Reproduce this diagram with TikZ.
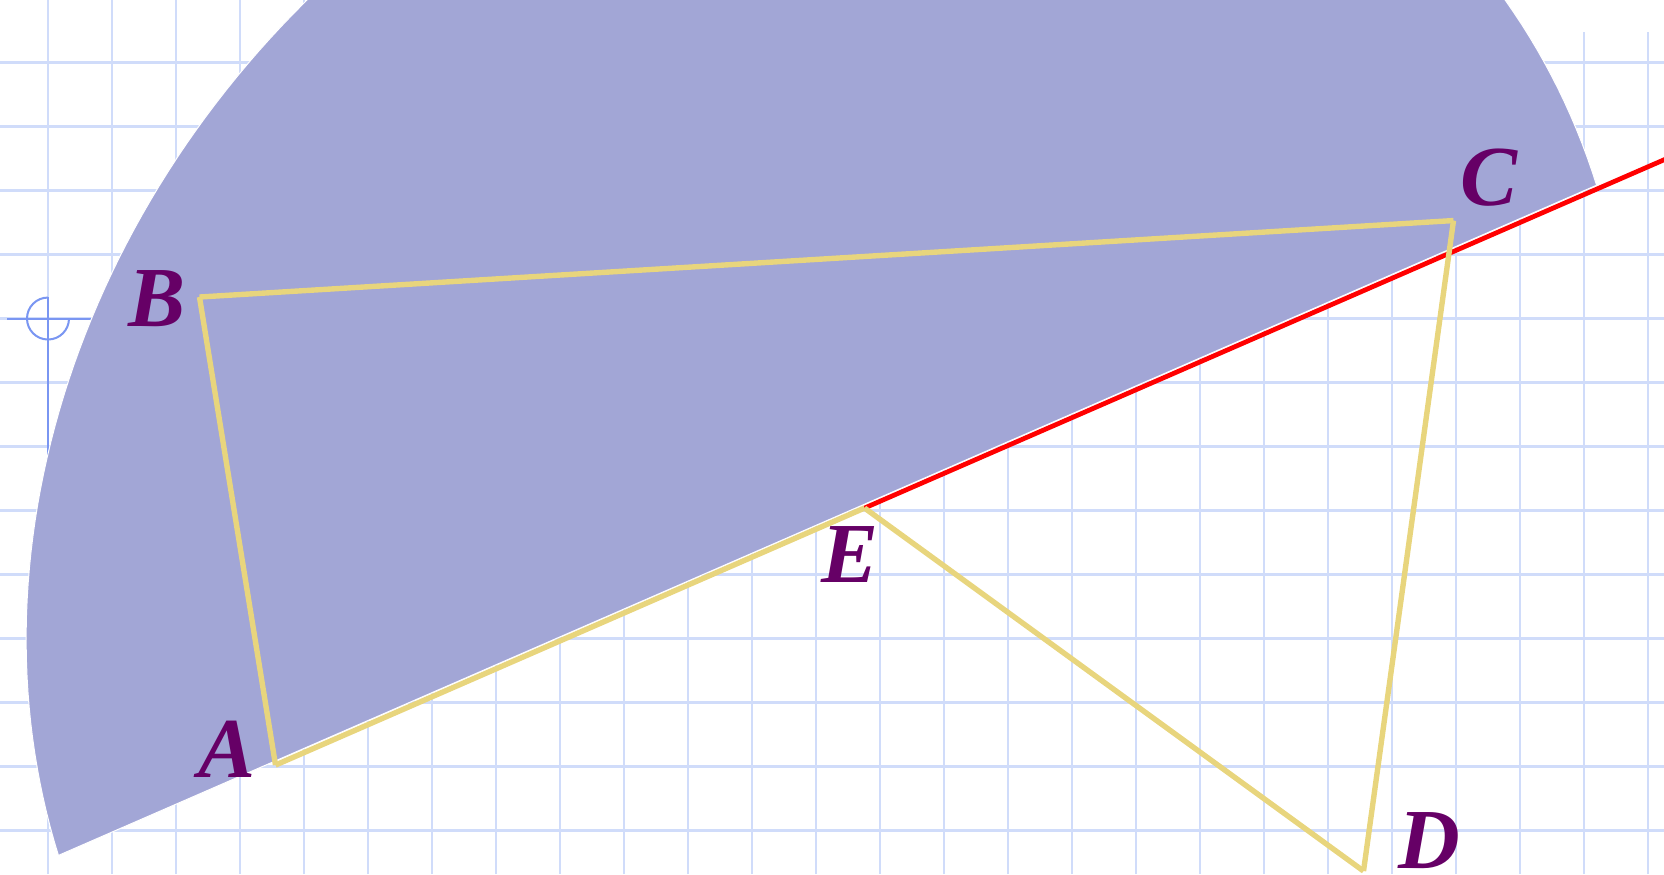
\documentclass[tikz,border=0pt]{standalone}
\usepackage{fontspec}
\setmainfont{Liberation Serif}
\usepackage{tikz}
\usetikzlibrary{positioning}

\definecolor{gridblue}{RGB}{208,220,250}
\definecolor{axisblue}{RGB}{122,150,242}
\definecolor{sectorblue}{RGB}{162,166,214}
\definecolor{sideyellow}{RGB}{232,213,125}
\definecolor{lblpurple}{RGB}{102,0,102}

\begin{document}
\begin{tikzpicture}[
  gridline/.style={gridblue,line width=0.95pt},
  axisline/.style={axisblue,line width=0.9pt},
  half/.style={fill=sectorblue,draw=white,line width=0.45pt},
  side/.style={sideyellow,line width=2.4pt},
  ray/.style={red,line width=2.1pt},
  lbl/.style={lblpurple,font=\fontsize{38}{40}\selectfont\bfseries\itshape,inner sep=0pt,anchor=base west}]
  \useasboundingbox (-0.75,-8.68) rectangle (25.25,4.977);
  \clip (-0.75,-8.68) rectangle (25.25,4.977);
  \draw[gridline] (-0.75,-8.68) grid (12.5,4.977);
  \draw[gridline] (12.5,-8.68) grid (25.25,4.477);

  \coordinate (origin) at (0,0);
  \draw[axisline] (-0.64,0) -- (1.2,0);
  \draw[axisline] (0,0.33) -- (0,-4);
  \draw[axisline] (origin) ++(90:0.328) arc[start angle=90,end angle=360,radius=0.328];

  \path[half,shift={(12.18,-3.153)},rotate=43.46]
    plot[domain=-22.85:157.15,samples=160] ({13.375*cos(\x)},{11.5*sin(\x)}) -- cycle;

  \coordinate (A) at (3.555,-6.977);
  \coordinate (B) at (2.367,0.336);
  \coordinate (C) at (21.961,1.531);
  \coordinate (D) at (20.555,-8.633);
  \coordinate (E) at (12.758,-2.961);
  \coordinate (rayend) at (25.5,2.589);

  \draw[ray] (E) -- (rayend);
  \draw[side] (A) -- (B);
  \draw[side] (B) -- (C);
  \draw[side] (C) -- (D);
  \draw[side] (D) -- (E);
  \draw[side] (E) -- (A);

  \node[lbl] (labA) at (2.350,-7.175) {A};
  \node[lbl] (labB) at (1.25,-0.117) {B};
  \node[lbl] (labC) at (22.067,1.770) {C};
  \node[lbl] (labD) at (21.095,-8.59) {D};
  \node[lbl] (labE) at (12.08,-4.128) {E};
\end{tikzpicture}
\end{document}
